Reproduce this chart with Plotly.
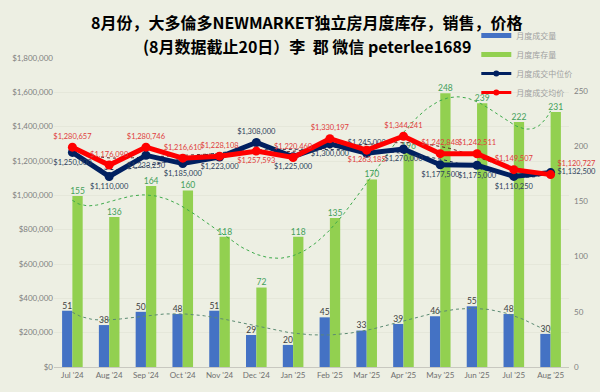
import numpy as np
import plotly.graph_objects as go

months = ["Jul '24", "Aug '24", "Sep '24", "Oct '24", "Nov '24", "Dec '24", "Jan '25",
          "Feb '25", "Mar '25", "Apr '25", "May '25", "Jun '25", "Jul '25", "Aug '25"]
sales = [51, 38, 50, 48, 51, 29, 20, 45, 33, 39, 46, 55, 48, 30]
inventory = [155, 136, 164, 160, 118, 72, 118, 135, 170, 196, 248, 239, 222, 231]
median_price = [1250000, 1110000, 1233250, 1185000, 1223000, 1308000, 1225000,
                1300000, 1245000, 1270000, 1177500, 1175000, 1110250, 1132500]
avg_price = [1280657, 1176090, 1280746, 1216610, 1228108, 1257593, 1220460,
             1330197, 1263185, 1344241, 1242848, 1242511, 1149507, 1120727]

navy_pos = ["bottom center"] * 14
navy_pos[5] = "top center"
navy_pos[8] = "top center"
navy_pos[13] = "middle right"
red_pos = ["top center"] * 14
red_pos[5] = "bottom center"
red_pos[8] = "bottom center"
red_pos[13] = "top right"

x = np.arange(len(months))
xf = np.linspace(0, len(months) - 1, 200)
BW = 0.28

def trend(vals, deg=6):
    c = np.polyfit(x, np.array(vals, dtype=float), deg)
    return np.polyval(c, xf)

BG = "#EDEFE3"
FONT = "Lato, 'Noto Sans CJK SC', sans-serif"
BLUE = "#4472C4"
GREEN = "#92D050"
NAVY = "#002060"
RED = "#FF0000"

fig = go.Figure()

# legend-only entries
fig.add_trace(go.Scatter(x=[None], y=[None], mode="lines", line=dict(color=BLUE, width=5),
                         name="月度成交量"))
fig.add_trace(go.Scatter(x=[None], y=[None], mode="lines", line=dict(color=GREEN, width=5),
                         name="月度库存量"))
fig.add_trace(go.Scatter(x=[None], y=[None], mode="lines+markers", line=dict(color=NAVY, width=3),
                         marker=dict(size=6, color=NAVY), name="月度成交中位价"))
fig.add_trace(go.Scatter(x=[None], y=[None], mode="lines+markers", line=dict(color=RED, width=3),
                         marker=dict(size=6, color=RED), name="月度成交均价"))

# bars on primary (right) axis
fig.add_trace(go.Bar(x=x, y=sales, width=BW, offset=-BW, marker=dict(color=BLUE, line=dict(width=0)),
                     showlegend=False, hoverinfo="skip"))
fig.add_trace(go.Bar(x=x, y=inventory, width=BW, offset=0, marker=dict(color=GREEN, line=dict(width=0)),
                     showlegend=False, hoverinfo="skip"))

# bar value labels
fig.add_trace(go.Scatter(x=x - BW / 2, y=sales, mode="text", text=[str(v) for v in sales],
                         textposition="top center", cliponaxis=False,
                         textfont=dict(size=8.5, color="#404040", family=FONT), showlegend=False))
fig.add_trace(go.Scatter(x=x + BW / 2, y=inventory, mode="text", text=[str(v) for v in inventory],
                         textposition="top center", cliponaxis=False,
                         textfont=dict(size=8.5, color="#43A05A", family=FONT), showlegend=False))

# trendlines for counts
fig.add_trace(go.Scatter(x=xf, y=trend(sales), mode="lines", line=dict(color="#5B8A72", width=1, dash="dot"),
                         showlegend=False, hoverinfo="skip"))
fig.add_trace(go.Scatter(x=xf, y=trend(inventory), mode="lines", line=dict(color="#3DAA4A", width=1, dash="dot"),
                         showlegend=False, hoverinfo="skip"))

# price trendlines
fig.add_trace(go.Scatter(x=xf, y=trend(median_price), mode="lines", yaxis="y2",
                         line=dict(color="#1F2F50", width=1, dash="dot"), showlegend=False, hoverinfo="skip"))
fig.add_trace(go.Scatter(x=xf, y=trend(avg_price), mode="lines", yaxis="y2",
                         line=dict(color="#602020", width=1, dash="dot"), showlegend=False, hoverinfo="skip"))

# price lines
fig.add_trace(go.Scatter(x=x, y=median_price, mode="lines+markers+text", yaxis="y2",
                         line=dict(color=NAVY, width=5), marker=dict(size=9, color=NAVY),
                         text=[f"${v:,.0f}" for v in median_price], textposition=navy_pos,
                         textfont=dict(size=7.5, color="#2E3F5C", family=FONT), showlegend=False,
                         cliponaxis=False))
fig.add_trace(go.Scatter(x=x, y=avg_price, mode="lines+markers+text", yaxis="y2",
                         line=dict(color=RED, width=5), marker=dict(size=9, color=RED),
                         text=[f"${v:,.0f}" for v in avg_price], textposition=red_pos,
                         textfont=dict(size=7.5, color="#E03C3C", family=FONT), showlegend=False,
                         cliponaxis=False))

fig.update_layout(
    width=600, height=392,
    margin=dict(l=53, r=24, t=58, b=24),
    paper_bgcolor=BG, plot_bgcolor=BG,
    font=dict(family=FONT, size=8, color="#808080"),
    barmode="overlay",
    xaxis=dict(range=[-0.5, len(months) - 0.5], tickmode="array", tickvals=list(x), ticktext=months,
               showgrid=False, zeroline=False, showline=True, linecolor="#C8C8C0", linewidth=1,
               ticks="", tickfont=dict(size=8, color="#707070")),
    yaxis=dict(side="right", anchor="x", range=[0, 280], dtick=50, showgrid=False, zeroline=False,
               showticklabels=True, tickfont=dict(size=8, color="#808080"), ticks="",
               ticklabelstandoff=4),
    yaxis2=dict(side="left", overlaying="y", anchor="x", range=[0, 1800000], dtick=200000,
                tickformat="$,.0f", showgrid=True, gridcolor="#E5E7DA", zeroline=False,
                tickfont=dict(size=8, color="#808080"), ticks=""),
    legend=dict(x=0.82, y=1.12, xanchor="left", yanchor="top", bgcolor="rgba(0,0,0,0)",
                font=dict(size=8, color="#A0A0A0"), tracegroupgap=0, itemwidth=30),
    annotations=[
        dict(text="<b>8月份，大多倫多NEWMARKET独立房月度库存，销售，价格</b>", x=310, y=22,
             xref="paper", yref="paper", showarrow=False,
             font=dict(size=16, color="#000000", family="'Noto Sans CJK SC', sans-serif")),
        dict(text="<b>(8月数据截止20日）李  郡 微信 peterlee1689</b>", x=310, y=46,
             xref="paper", yref="paper", showarrow=False,
             font=dict(size=16, color="#000000", family="'Noto Sans CJK SC', sans-serif")),
    ],
)

# convert annotation pixel positions to paper coords
pw = 600 - 53 - 24
ph = 392 - 58 - 24
for a in fig.layout.annotations:
    px, py = a.x, a.y
    a.x = (px - 53) / pw
    a.y = (392 - 24 - py) / ph
    a.xanchor = "center"
    a.yanchor = "middle"

fig.write_html("out.html", config={"displayModeBar": False},
               post_script="document.body.style.margin='0px';")
